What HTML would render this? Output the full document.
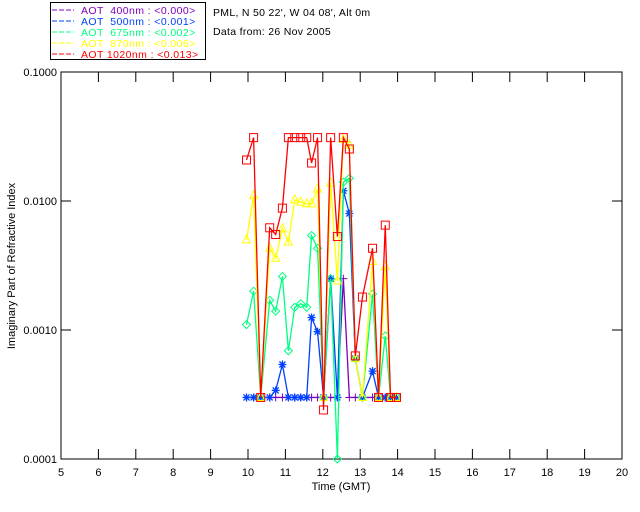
<!DOCTYPE html>
<html><head><meta charset="utf-8"><style>
body{margin:0;background:#fff;width:640px;height:512px;overflow:hidden}
svg{display:block;font-family:"Liberation Sans",sans-serif}
.pre{white-space:pre}
</style></head><body>
<svg id="c" width="640" height="512" xmlns="http://www.w3.org/2000/svg"></svg>
<script>
const times=[9.96,10.15,10.34,10.58,10.74,10.92,11.08,11.25,11.41,11.57,11.70,11.86,12.02,12.21,12.39,12.55,12.71,12.87,13.06,13.33,13.49,13.67,13.81,13.97];
const v400=[0.0003,0.0003,0.0003,0.0003,0.0003,0.0003,0.0003,0.0003,0.0003,0.0003,0.0003,0.0003,0.0003,0.0003,0.0003,0.0025,0.0003,0.0003,0.0003,0.0003,0.0003,0.0003,0.0003,0.0003];
const v500=[0.0003,0.0003,0.0003,0.0003,0.00034,0.00054,0.0003,0.0003,0.0003,0.0003,0.00125,0.00097,0.0003,0.0025,0.0003,0.012,0.008,0.0006,0.0003,0.00048,0.0003,0.0003,0.0003,0.0003];
const v675=[0.0011,0.002,0.0003,0.0017,0.0014,0.0026,0.00069,0.0015,0.0016,0.0015,0.0054,0.0043,0.0003,0.0025,0.0001,0.014,0.015,0.0006,0.0003,0.0019,0.0003,0.0009,0.0003,0.0003];
const v870=[0.005,0.011,0.0003,0.0043,0.0036,0.0061,0.0048,0.0102,0.0098,0.0095,0.0095,0.0124,0.0003,0.0138,0.0024,0.03,0.027,0.0006,0.0003,0.0034,0.0003,0.0031,0.0003,0.0003];
const v1020=[0.0208,0.031,0.0003,0.0062,0.0055,0.0088,0.031,0.031,0.031,0.031,0.0197,0.031,0.00024,0.031,0.0053,0.031,0.0253,0.00063,0.0018,0.0043,0.0003,0.0065,0.0003,0.0003];
const xTicks=[5,6,7,8,9,10,11,12,13,14,15,16,17,18,19,20];
const yTicks=[0.1,0.01,0.001,0.0001];
const yLabels=["0.1000","0.0100","0.0010","0.0001"];
const legendLabels=["AOT  400nm : <0.000>","AOT  500nm : <0.001>","AOT  675nm : <0.002>","AOT  870nm : <0.006>","AOT 1020nm : <0.013>"];
const L=61,R=622,T=72,B=459;
const X=t=>L+(t-5)/15*(R-L);
const Y=v=>T+(-1-Math.log10(v))/3*(B-T);
const svg=document.getElementById('c');
const NS='http://www.w3.org/2000/svg';
function mk(tag,attrs,parent){const e=document.createElementNS(NS,tag);for(const k in attrs)e.setAttribute(k,attrs[k]);(parent||svg).appendChild(e);return e;}
const frame=mk('rect',{x:L,y:T,width:R-L,height:B-T,fill:'none',stroke:'#000','stroke-width':1});


xTicks.forEach(t=>{
 const x=X(t);
 mk('line',{x1:x,y1:B,x2:x,y2:B-10,stroke:'#000'});
 mk('line',{x1:x,y1:T,x2:x,y2:T+10,stroke:'#000'});
 const tx=mk('text',{x:x,y:B+17,'font-size':11,'text-anchor':'middle'});tx.textContent=t;
 
 
});
yTicks.forEach((v,i)=>{
 const y=Y(v);
 mk('line',{x1:L,y1:y,x2:L+10,y2:y,stroke:'#000'});
 mk('line',{x1:R,y1:y,x2:R-10,y2:y,stroke:'#000'});
 const tx=mk('text',{x:57,y:y+4,'font-size':11,'text-anchor':'end'});tx.textContent=yLabels[i];
 
 
});
const xt=mk('text',{x:341,y:490,'font-size':11,'text-anchor':'middle'});xt.textContent='Time (GMT)';


const yt=mk('text',{x:0,y:0,'font-size':11,'text-anchor':'middle',transform:'translate(15,266) rotate(-90)'});yt.textContent='Imaginary Part of Refractive Index';


const series=[[v400,'#7f00bf','plus'],[v500,'#0040ff','star'],[v675,'#00ff80','diamond'],[v870,'#ffff00','tri'],[v1020,'#ff0000','square']];
series.forEach((s,si)=>{
 const g=mk('g',{});
 
 
 const pts=times.map((t,i)=>X(t)+','+Y(s[0][i])).join(' ');
 mk('polyline',{points:pts,fill:'none',stroke:s[1],'stroke-width':1.3},g);
 times.forEach((t,i)=>{
  const x=X(t),y=Y(s[0][i]);let m;
  if(s[2]=='plus')m=mk('path',{d:`M${x-4},${y}h8M${x},${y-4}v8`,stroke:s[1],fill:'none'},g);
  else if(s[2]=='star')m=mk('path',{d:`M${x-4},${y}h8M${x},${y-4}v8M${x-3},${y-3}l6,6M${x-3},${y+3}l6,-6`,stroke:s[1],fill:'none','stroke-width':1.3},g);
  else if(s[2]=='diamond')m=mk('path',{d:`M${x},${y-4}l4,4l-4,4l-4,-4z`,stroke:s[1],fill:'none'},g);
  else if(s[2]=='tri')m=mk('path',{d:`M${x},${y-5}l4,8h-8z`,stroke:s[1],fill:'none'},g);
  else m=mk('rect',{x:x-4,y:y-4,width:8,height:8,stroke:s[1],fill:'none'},g);
  
  
 });
});
const lg=mk('g',{});


mk('rect',{x:50.5,y:2.5,width:155,height:57,fill:'#fff',stroke:'#000'},lg);
legendLabels.forEach((lab,i)=>{
 const y=11+i*11;const c=series[i][1];
 mk('line',{x1:52,y1:y-1,x2:74,y2:y-1,stroke:c,'stroke-dasharray':'5,2'},lg);
 const tx=mk('text',{x:81,y:y+3,'font-size':10.5,fill:c,'class':'pre','letter-spacing':'0.4'},lg);tx.textContent=lab;
 
 
});
const t1=mk('text',{x:213,y:16,'font-size':10.5,'letter-spacing':'0.3'});t1.textContent="PML, N 50 22', W 04 08', Alt 0m";


const t2=mk('text',{x:213,y:35,'font-size':10.5,'letter-spacing':'0.3'});t2.textContent="Data from: 26 Nov 2005";


</script>
</body></html>
